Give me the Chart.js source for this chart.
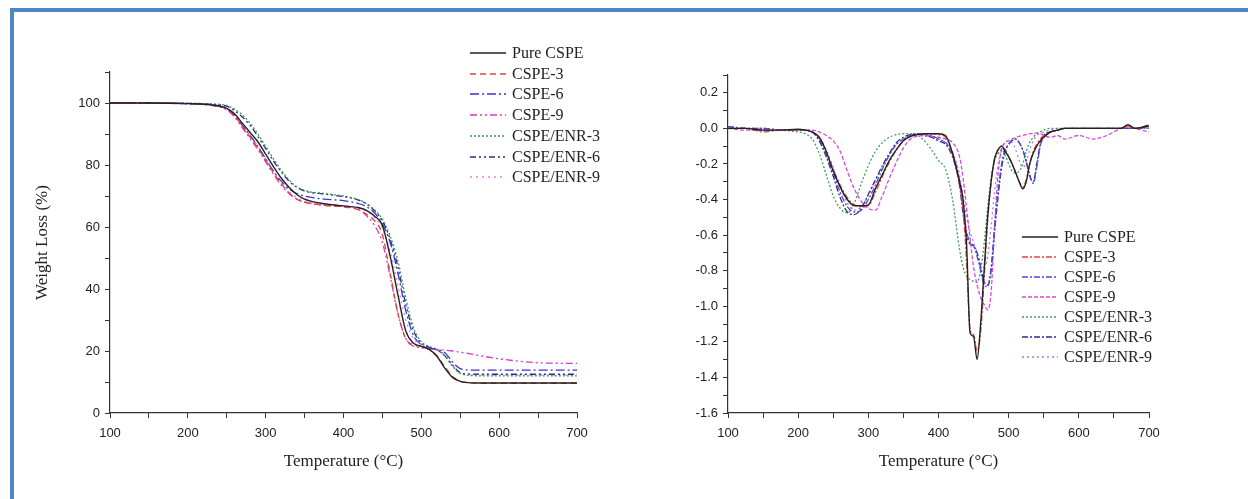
<!DOCTYPE html>
<html>
<head>
<meta charset="utf-8">
<script src="https://cdn.jsdelivr.net/npm/chart.js@4.4.1/dist/chart.umd.min.js"></script>
<style>
  html,body{margin:0;padding:0;background:#fff;}
  body{width:1248px;height:499px;position:relative;overflow:hidden;}
  #frameTop{position:absolute;left:10px;top:8px;width:1238px;height:4px;background:#4f86c6;}
  #frameLeft{position:absolute;left:10px;top:8px;width:4px;height:491px;background:#4f86c6;}
  canvas{position:absolute;top:0;}
  .legend{position:absolute;font-family:"Liberation Serif","Times New Roman",serif;font-size:16px;color:#222;}
  .legend .row{position:absolute;left:0;height:20px;white-space:nowrap;display:flex;align-items:center;}
  .legend svg{display:block;margin-right:6px;}
</style>
</head>
<body>
<div id="frameTop"></div>
<div id="frameLeft"></div>
<canvas id="tga" width="620" height="499" style="left:0px"></canvas>
<canvas id="dtg" width="628" height="499" style="left:620px"></canvas>
<div id="legTGA" class="legend" style="left:470px;top:43px;"></div>
<div id="legDTG" class="legend" style="left:1022px;top:227px;"></div>
<script>
// ---------- DATA ----------
const seriesNames = ["Pure CSPE","CSPE-3","CSPE-6","CSPE-9","CSPE/ENR-3","CSPE/ENR-6","CSPE/ENR-9"];

// TGA (left) temperatures, °C
const tgaTemp = [100,150,200,230,250,260,270,280,290,300,310,320,330,340,350,375,400,420,430,440,450,460,470,480,490,500,510,520,530,540,550,560,575,600,650,700];
const tgaPure   = [100,100,99.8,99.4,98.3,96.5,93.5,90.5,87.5,83.5,79.5,75.8,72.8,70.5,69,67.5,66.8,66.2,65.3,63.5,60.5,50.5,38,26.5,22.5,21.5,20.5,18.3,14.5,11.5,10.2,9.8,9.7,9.7,9.7,9.7];
const tgaC3     = [100,100,99.8,99.3,98,95.8,92.5,89,85.5,81.5,77.5,74,71,69,68,67,66.5,65.5,64,62,57.5,45,32,24,22,21.5,20.6,18.5,15,11.8,10.2,9.8,9.6,9.6,9.6,9.6];
const tgaC6     = [100,100,99.8,99.4,98.3,96,92.8,89.5,86,82,78,74.8,72.3,70.8,70,69,68.5,67.5,66.5,64.5,61,55,45,33,25,22,21,20.5,19.5,16.5,14.3,13.9,13.8,13.8,13.8,13.8];
const tgaC9     = [100,100,99.7,99.2,97.8,95.5,92,88.5,85,81,77,73.5,70.8,69,68,67,66.6,65.5,63.5,60.5,55,44,32,24,21.5,21,20.7,20.5,20.3,20,19.6,19.2,18.5,17.5,16.2,16];
const tgaE3     = [100,100,99.9,99.7,99.2,98,96.2,93.5,90,86,82,78.3,75.2,73,71.8,70.8,70,68.8,67.5,65.5,62.5,57,49,37,27.5,23,21.5,20.5,18.5,15,12.8,12.2,12,12,12,12];
const tgaE6     = [100,100,99.9,99.6,99,97.5,95.5,92.8,89.2,85.3,81.3,77.8,74.8,72.8,71.6,70.6,69.8,68.6,67.3,65.2,62,56,47,35,26.5,22.5,21.2,20.3,18.5,15.5,13,12.6,12.5,12.5,12.5,12.5];
const tgaE9     = [100,100,99.8,99.4,98.2,96,93,89.5,86,82,78,74.5,71.5,69.5,68.3,67.3,66.8,66,65,63,59.5,52,41,30,24,21.8,21,20.3,18.8,15.5,13,12.4,12.2,12.2,12.2,12.2];

// DTG (right) temperatures, °C
const dtgTemp = [100,125,150,175,200,210,220,230,240,250,260,270,280,290,300,310,320,330,340,350,360,370,380,390,400,410,420,430,435,440,445,450,455,460,465,470,475,480,485,490,495,500,505,510,515,520,525,530,535,540,545,550,560,570,580,600,620,640,660,670,680,700];
const dtgPure = [0,0,-0.01,-0.01,-0.005,-0.01,-0.02,-0.05,-0.13,-0.24,-0.33,-0.40,-0.435,-0.435,-0.43,-0.34,-0.26,-0.18,-0.12,-0.07,-0.045,-0.035,-0.03,-0.03,-0.03,-0.04,-0.14,-0.30,-0.40,-0.65,-1.15,-1.17,-1.30,-1.10,-0.80,-0.50,-0.30,-0.17,-0.12,-0.10,-0.13,-0.16,-0.20,-0.25,-0.30,-0.34,-0.30,-0.20,-0.14,-0.10,-0.07,-0.05,-0.02,-0.01,0,0,0,0,0,0.02,0,0.015];
const dtgC3   = [0,0,-0.02,-0.01,-0.01,-0.01,-0.02,-0.05,-0.13,-0.23,-0.32,-0.39,-0.43,-0.44,-0.435,-0.36,-0.27,-0.19,-0.12,-0.07,-0.045,-0.035,-0.03,-0.03,-0.035,-0.05,-0.15,-0.32,-0.45,-0.75,-1.13,-1.16,-1.25,-1.15,-0.85,-0.52,-0.30,-0.17,-0.12,-0.10,-0.12,-0.16,-0.20,-0.25,-0.30,-0.33,-0.29,-0.20,-0.13,-0.09,-0.06,-0.04,-0.02,-0.01,0,0,0,0,0,0.01,0,0.01];
const dtgC6   = [0.01,0,0,-0.01,-0.01,-0.01,-0.02,-0.06,-0.15,-0.25,-0.36,-0.44,-0.47,-0.46,-0.40,-0.32,-0.23,-0.15,-0.09,-0.06,-0.04,-0.03,-0.03,-0.04,-0.06,-0.08,-0.14,-0.30,-0.45,-0.58,-0.64,-0.66,-0.72,-0.80,-0.88,-0.89,-0.78,-0.55,-0.35,-0.20,-0.12,-0.09,-0.07,-0.06,-0.08,-0.12,-0.18,-0.26,-0.31,-0.22,-0.10,-0.05,-0.02,-0.01,0,0,0,0,0,0,0,0.01];
const dtgC9   = [0,-0.01,-0.01,-0.01,-0.01,-0.01,-0.01,-0.02,-0.04,-0.07,-0.13,-0.24,-0.34,-0.41,-0.45,-0.46,-0.38,-0.28,-0.19,-0.11,-0.06,-0.045,-0.04,-0.045,-0.05,-0.06,-0.08,-0.16,-0.28,-0.45,-0.62,-0.78,-0.88,-0.95,-0.99,-1.02,-0.92,-0.55,-0.25,-0.12,-0.08,-0.07,-0.06,-0.05,-0.045,-0.04,-0.035,-0.03,-0.03,-0.025,-0.03,-0.04,-0.05,-0.04,-0.06,-0.04,-0.06,-0.04,0,0.01,0,-0.02];
const dtgE3   = [0,0,0,-0.01,-0.02,-0.03,-0.06,-0.14,-0.26,-0.38,-0.45,-0.475,-0.42,-0.31,-0.21,-0.13,-0.08,-0.05,-0.035,-0.03,-0.03,-0.04,-0.07,-0.12,-0.18,-0.23,-0.40,-0.68,-0.78,-0.83,-0.85,-0.86,-0.865,-0.80,-0.65,-0.45,-0.28,-0.18,-0.14,-0.12,-0.15,-0.20,-0.24,-0.25,-0.24,-0.20,-0.13,-0.08,-0.05,-0.03,-0.02,-0.01,0,0,0,0,0,0,0,0,0,0];
const dtgE6   = [0.01,0,-0.01,-0.01,-0.01,-0.01,-0.02,-0.07,-0.16,-0.27,-0.39,-0.47,-0.485,-0.45,-0.37,-0.29,-0.21,-0.14,-0.08,-0.05,-0.035,-0.03,-0.04,-0.05,-0.07,-0.09,-0.16,-0.32,-0.48,-0.60,-0.65,-0.66,-0.70,-0.78,-0.86,-0.88,-0.80,-0.58,-0.38,-0.22,-0.13,-0.09,-0.065,-0.06,-0.08,-0.12,-0.19,-0.27,-0.30,-0.20,-0.09,-0.04,-0.02,-0.01,0,0,0,0,0,0,0,0.02];
const dtgE9   = [0,0,0,-0.01,-0.01,-0.01,-0.02,-0.05,-0.12,-0.22,-0.33,-0.42,-0.46,-0.44,-0.38,-0.30,-0.22,-0.15,-0.09,-0.06,-0.04,-0.035,-0.035,-0.045,-0.06,-0.08,-0.13,-0.26,-0.38,-0.50,-0.58,-0.64,-0.70,-0.76,-0.78,-0.72,-0.55,-0.35,-0.20,-0.11,-0.08,-0.07,-0.08,-0.12,-0.18,-0.22,-0.19,-0.12,-0.07,-0.04,-0.03,-0.02,-0.01,0,0,0,0,0,0,0,0,0];

const tgaXTicks = [100,200,300,400,500,600,700];
const tgaYTicks = [0,20,40,60,80,100];
const dtgYTicks = [0.2,0.0,-0.2,-0.4,-0.6,-0.8,-1.0,-1.2,-1.4,-1.6];

// ---------- STYLES ----------
const tgaStyles = [
  {color:"#222222", dash:[]},
  {color:"#e0443c", dash:[6,4]},
  {color:"#3636d0", dash:[9,3,2,3]},
  {color:"#d23ad2", dash:[7,3,2,3,2,3]},
  {color:"#3a9a55", dash:[2,2]},
  {color:"#2c2c86", dash:[6,3,2,3,2,3]},
  {color:"#e67ee6", dash:[2,4]}
];
const dtgStyles = [
  {color:"#222222", dash:[]},
  {color:"#e0443c", dash:[6,2,2,2]},
  {color:"#4b4bd6", dash:[6,2,2,2]},
  {color:"#d84ad8", dash:[4,2]},
  {color:"#3ea05a", dash:[2,2]},
  {color:"#2c2c86", dash:[6,2,2,2]},
  {color:"#b27ae8", dash:[2,3]}
];

function build(xs, arrays, styles){
  return arrays.map((arr,i)=>({
    label: seriesNames[i],
    data: xs.map((x,j)=>({x:x, y:arr[j]})),
    borderColor: styles[i].color,
    borderDash: styles[i].dash,
    borderWidth: i===0 ? 1.4 : 1.3,
    pointRadius: 0,
    fill: false,
    cubicInterpolationMode: 'monotone'
  }));
}

const tickFont = {family:"'Liberation Sans', Arial, sans-serif", size:13};
const titleFont = {family:"'Liberation Serif', 'Times New Roman', serif", size:17};
const axisColor = "#333";

function axisCommon(){
  return {
    type:'linear',
    grid:{display:true, drawOnChartArea:false, drawTicks:true, tickLength:5, color:axisColor, lineWidth:1},
    border:{display:true, color:axisColor, width:1.2},
  };
}

// ---------- LEFT: TGA ----------
new Chart(document.getElementById('tga'), {
  type:'line',
  data:{datasets: build(tgaTemp,[tgaPure,tgaC3,tgaC6,tgaC9,tgaE3,tgaE6,tgaE9],tgaStyles)},
  options:{
    responsive:false, animation:false, devicePixelRatio:1,
    layout:{padding:{left:0, top:72, right:43, bottom:0}},
    plugins:{legend:{display:false}, tooltip:{enabled:false}},
    scales:{
      x: Object.assign(axisCommon(), {
        min:100, max:700,
        ticks:{stepSize:50, color:"#222", font:tickFont, padding:8, maxRotation:0, autoSkip:false,
          callback:(v)=> tgaXTicks.includes(v) ? String(v) : ''},
        title:{display:true, text:'Temperature (°C)', color:'#222', font:titleFont, padding:{top:0,bottom:27}},
        afterFit:(s)=>{s.height = 86;}
      }),
      y: Object.assign(axisCommon(), {
        min:0, max:110,
        ticks:{stepSize:10, color:"#222", font:tickFont, padding:5, autoSkip:false,
          callback:(v)=> tgaYTicks.includes(v) ? String(v) : ''},
        title:{display:true, text:'Weight Loss (%)', color:'#222', font:titleFont, padding:{top:32,bottom:0}},
        afterFit:(s)=>{s.width = 110;}
      })
    }
  }
});

// ---------- RIGHT: DTG ----------
new Chart(document.getElementById('dtg'), {
  type:'line',
  data:{datasets: build(dtgTemp,[dtgPure,dtgC3,dtgC6,dtgC9,dtgE3,dtgE6,dtgE9],dtgStyles)},
  options:{
    responsive:false, animation:false, devicePixelRatio:1,
    layout:{padding:{left:0, top:75, right:99, bottom:0}},
    plugins:{legend:{display:false}, tooltip:{enabled:false}},
    scales:{
      x: Object.assign(axisCommon(), {
        min:100, max:700,
        ticks:{stepSize:50, color:"#222", font:tickFont, padding:8, maxRotation:0, autoSkip:false,
          callback:(v)=> tgaXTicks.includes(v) ? String(v) : ''},
        title:{display:true, text:'Temperature (°C)', color:'#222', font:titleFont, padding:{top:0,bottom:27}},
        afterFit:(s)=>{s.height = 86;}
      }),
      y: Object.assign(axisCommon(), {
        min:-1.6, max:0.3,
        ticks:{stepSize:0.1, color:"#222", font:tickFont, padding:5, autoSkip:false,
          callback:(v)=> {
            const r = Math.round(v*10)/10;
            const hit = dtgYTicks.some(t=>Math.abs(t-r)<1e-9);
            return hit ? r.toFixed(1) : '';
          }},
        afterFit:(s)=>{s.width = 108;}
      })
    }
  }
});

// ---------- LEGENDS (HTML) ----------
function makeLegend(el, styles, sampleW, rowH){
  seriesNames.forEach((name,i)=>{
    const row = document.createElement('div');
    row.className='row';
    row.style.top = (i*rowH)+'px';
    const st = styles[i];
    const dash = st.dash.length ? st.dash.join(',') : 'none';
    row.innerHTML = '<svg width="'+sampleW+'" height="10"><line x1="0" y1="5" x2="'+sampleW+'" y2="5" stroke="'+st.color+'" stroke-width="1.4" stroke-dasharray="'+dash+'"/></svg><span>'+name+'</span>';
    el.appendChild(row);
  });
}
makeLegend(document.getElementById('legTGA'), tgaStyles, 36, 20.7);
makeLegend(document.getElementById('legDTG'), dtgStyles, 36, 20);
</script>
</body>
</html>
